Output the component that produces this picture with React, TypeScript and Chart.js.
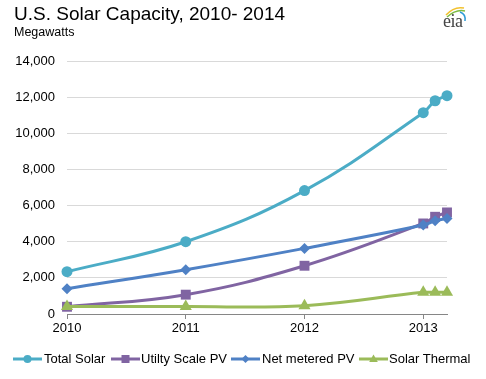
import React, { useEffect, useRef } from "react";
import { Chart, registerables } from "chart.js";

Chart.register(...registerables);

const xValues = [2010, 2011, 2012, 2013, 2013.1, 2013.2];
const xTickValues = [2010, 2011, 2012, 2013];
const totalSolar = [2340, 4000, 6830, 11140, 11800, 12080];
const utilityPV = [400, 1070, 2670, 5010, 5380, 5620];
const netMeteredPV = [1400, 2450, 3630, 4920, 5160, 5290];
const solarThermal = [420, 410, 460, 1200, 1200, 1210];
const yTicks = [0, 2000, 4000, 6000, 8000, 10000, 12000, 14000];

const seriesNames = ["Total Solar", "Utilty Scale PV", "Net metered PV", "Solar Thermal"];
const seriesColors = ["#4BACC6", "#8064A2", "#4F81C5", "#9BBB59"];

const FONT = '"Liberation Sans", Arial, sans-serif';

function LegendIcon({ idx }: { idx: number }) {
  const c = seriesColors[idx];
  let marker: React.ReactNode = null;
  if (idx === 0) marker = <circle cx={14.5} cy={6} r={4} fill={c} />;
  if (idx === 1) marker = <rect x={10.5} y={2} width={8} height={8} fill={c} />;
  if (idx === 2) marker = <polygon points="14.5,2 18.5,6 14.5,10 10.5,6" fill={c} />;
  if (idx === 3) marker = <polygon points="14.5,1.5 18.8,9 10.2,9" fill={c} />;
  return (
    <svg width={29} height={12} style={{ display: "block" }}>
      <line x1={0} y1={6} x2={29} y2={6} stroke={c} strokeWidth={3} />
      {marker}
    </svg>
  );
}

export default function App() {
  const ref = useRef<HTMLCanvasElement | null>(null);

  useEffect(() => {
    if (!ref.current) return;
    const mk = (vals: number[]) => xValues.map((x, i) => ({ x, y: vals[i] }));
    const seriesData = [totalSolar, utilityPV, netMeteredPV, solarThermal];
    const pointStyles = ["circle", "rect", "rectRot", "triangle"];
    const radii = [5.5, 7, 5.5, 7];
    const orders = [3, 2, 1, 0];
    const chart = new Chart(ref.current, {
      type: "line",
      data: {
        datasets: seriesData.map((vals, i) => ({
          label: seriesNames[i],
          data: mk(vals),
          borderColor: seriesColors[i],
          backgroundColor: seriesColors[i],
          pointBackgroundColor: seriesColors[i],
          pointBorderColor: seriesColors[i],
          pointBorderWidth: 0,
          borderWidth: 3,
          pointStyle: pointStyles[i] as any,
          pointRadius: radii[i],
          tension: 0.4,
          order: orders[i],
          fill: false,
          clip: false as any,
        })),
      },
      options: {
        responsive: false,
        animation: false,
        devicePixelRatio: 1,
        layout: { padding: { left: 0, right: 39, top: 61, bottom: 43 } },
        plugins: { legend: { display: false }, tooltip: { enabled: false }, title: { display: false } },
        scales: {
          x: {
            type: "linear",
            min: 2010,
            max: 2013.2,
            afterBuildTicks: (scale: any) => {
              scale.ticks = xTickValues.map((v) => ({ value: v }));
            },
            afterFit: (scale: any) => {
              scale.height = 22;
            },
            grid: { drawOnChartArea: false, drawTicks: true, tickLength: 5, color: "#868686" },
            border: { display: true, color: "#868686", width: 1 },
            ticks: {
              callback: (v: any) => String(v),
              font: { family: FONT, size: 13 },
              color: "#000",
              padding: 2,
              maxRotation: 0,
              autoSkip: false,
            },
          },
          y: {
            min: 0,
            max: 14000,
            afterBuildTicks: (scale: any) => {
              scale.ticks = yTicks.map((v) => ({ value: v }));
            },
            afterFit: (scale: any) => {
              scale.width = 67;
            },
            grid: { color: "#d9d9d9", drawTicks: false, lineWidth: 1 },
            border: { display: false },
            ticks: {
              callback: (v: any) => Number(v).toLocaleString("en-US"),
              font: { family: FONT, size: 13 },
              color: "#000",
              padding: 12,
            },
          },
        },
      },
    });
    return () => chart.destroy();
  }, []);

  const legendPos = [
    { icon: 13, text: 44 },
    { icon: 111, text: 141 },
    { icon: 231, text: 262 },
    { icon: 359, text: 389 },
  ];

  return (
    <div style={{ position: "fixed", left: 0, top: 0, width: 486, height: 379, background: "#fff", overflow: "hidden", fontFamily: FONT }}>
      <canvas ref={ref} width={486} height={379} style={{ position: "absolute", left: 0, top: 0, width: 486, height: 379 }} />
      <div style={{ position: "absolute", left: 14, top: 4, fontSize: 19, lineHeight: "19px", color: "#000", whiteSpace: "nowrap" }}>
        U.S. Solar Capacity, 2010- 2014
      </div>
      <div style={{ position: "absolute", left: 14, top: 25.5, fontSize: 12.5, lineHeight: "12.5px", color: "#000", whiteSpace: "nowrap" }}>
        Megawatts
      </div>
      <svg width={30} height={22} style={{ position: "absolute", left: 440, top: 5 }}>
        <path d="M6 10 Q14 1 24 3" stroke="#F2C12E" strokeWidth={1.5} fill="none" />
        <path d="M7 12 Q16 4 25 6" stroke="#7DBB42" strokeWidth={1.5} fill="none" />
        <path d="M20 7 Q26 9 25 16" stroke="#2F9BD6" strokeWidth={1.5} fill="none" />
      </svg>
      <div style={{ position: "absolute", left: 443, top: 12, fontSize: 18, lineHeight: "18px", fontFamily: '"Liberation Serif", "DejaVu Serif", serif', color: "#444", letterSpacing: -0.5 }}>
        eia
      </div>
      {seriesNames.map((name, i) => (
        <React.Fragment key={name}>
          <div style={{ position: "absolute", left: legendPos[i].icon, top: 353 }}>
            <LegendIcon idx={i} />
          </div>
          <div style={{ position: "absolute", left: legendPos[i].text, top: 352, fontSize: 13, lineHeight: "14px", color: "#000", whiteSpace: "nowrap" }}>
            {name}
          </div>
        </React.Fragment>
      ))}
    </div>
  );
}
